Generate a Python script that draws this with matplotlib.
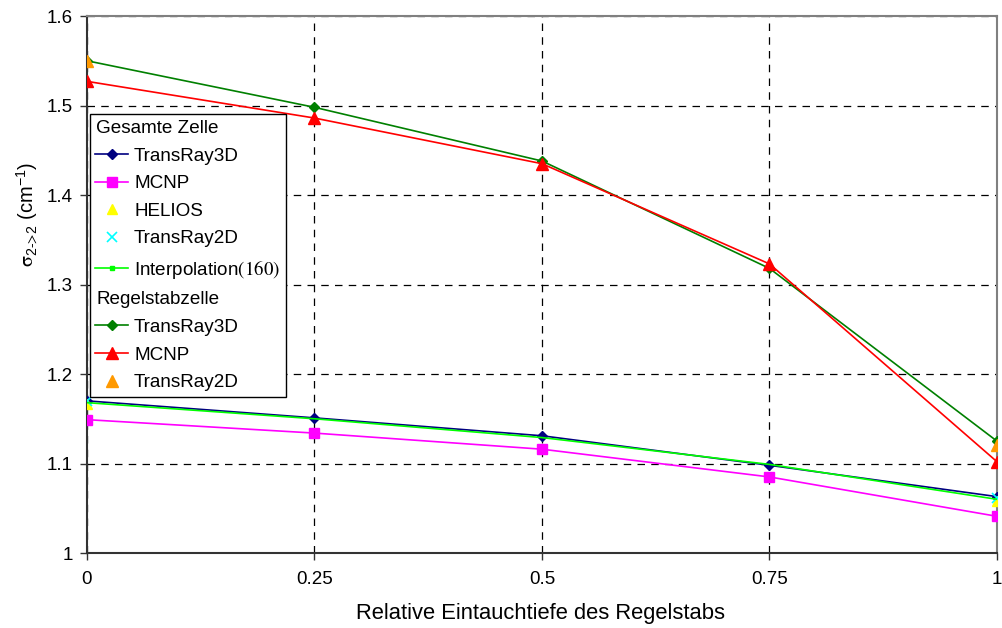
import matplotlib
matplotlib.use("Agg")
import matplotlib.pyplot as plt
from matplotlib.lines import Line2D
from matplotlib.ticker import FixedLocator, FuncFormatter

plt.rcParams['font.family'] = ['Liberation Sans', 'DejaVu Sans']
plt.rcParams['mathtext.fontset'] = 'stix'
plt.rcParams['mathtext.default'] = 'regular'

# x positions (relative immersion depth)
depth = [0, 0.25, 0.5, 0.75, 1]
depth_ends = [0, 1]

# Gesamte Zelle
gz_transray3d = [1.170, 1.151, 1.131, 1.098, 1.063]
gz_mcnp = [1.149, 1.134, 1.116, 1.085, 1.041]
gz_helios = [1.167, 1.058]
gz_transray2d = [1.170, 1.062]
gz_interp = [1.168, 1.150, 1.129, 1.099, 1.060]

# Regelstabzelle
rz_transray3d = [1.550, 1.498, 1.438, 1.318, 1.125]
rz_mcnp = [1.527, 1.486, 1.435, 1.323, 1.102]
rz_transray2d = [1.550, 1.121]

x_ticks = [0, 0.25, 0.5, 0.75, 1]
y_ticks = [1.0, 1.1, 1.2, 1.3, 1.4, 1.5, 1.6]

fig = plt.figure(figsize=(10.02, 6.28), dpi=100)
ax = fig.add_axes([0.0868, 0.1194, 0.9082, 0.8551])

lw = 1.2
h1, = ax.plot(depth, gz_transray3d, color='#000080', marker='D', ms=5, lw=lw, zorder=3)
h2, = ax.plot(depth, gz_mcnp, color='#FF00FF', marker='s', ms=7, lw=lw, zorder=3)
h3, = ax.plot(depth_ends, gz_helios, color='#FFFF00', marker='^', ms=7, ls='none', zorder=4)
h4, = ax.plot(depth_ends, gz_transray2d, color='#00FFFF', marker='x', ms=7, mew=1.2, ls='none', zorder=4)
h5, = ax.plot(depth, gz_interp, color='#00FF00', lw=lw, zorder=4)
h5leg = Line2D([], [], color='#00FF00', lw=lw, marker='s', ms=3)
h6, = ax.plot(depth, rz_transray3d, color='#008000', marker='D', ms=5, lw=lw, zorder=3)
h7, = ax.plot(depth, rz_mcnp, color='#FF0000', marker='^', ms=8, lw=lw, zorder=3)
h8, = ax.plot(depth_ends, rz_transray2d, color='#FF9900', marker='^', ms=8, ls='none', zorder=5)

blank = Line2D([], [], color='none')
handles = [blank, h1, h2, h3, h4, h5leg, blank, h6, h7, h8]
labels = ['Gesamte Zelle', 'TransRay3D', 'MCNP', 'HELIOS', 'TransRay2D',
          r'Interpolation$\mathrm{(160)}$', 'Regelstabzelle', 'TransRay3D', 'MCNP', 'TransRay2D']

ax.set_xlim(0, 1)
ax.set_ylim(1.0, 1.6)
ax.xaxis.set_major_locator(FixedLocator(x_ticks))
ax.yaxis.set_major_locator(FixedLocator(y_ticks))
fmt = FuncFormatter(lambda v, p: '%g' % round(v, 2))
ax.xaxis.set_major_formatter(fmt)
ax.yaxis.set_major_formatter(fmt)
ax.tick_params(axis='both', labelsize=13.5, direction='out', length=5, width=1, color='#333333')
ax.tick_params(axis='x', pad=8)
ax.tick_params(axis='y', pad=5)

ax.grid(True, color='black', ls=(0, (6, 5)), lw=0.9)
ax.set_axisbelow(True)

for s in ['left', 'bottom']:
    ax.spines[s].set_color('#333333')
    ax.spines[s].set_linewidth(1.5)
for s in ['top', 'right']:
    ax.spines[s].set_color('#808080')
    ax.spines[s].set_linewidth(1.5)

ax.set_xlabel('Relative Eintauchtiefe des Regelstabs', fontsize=15.8)
ax.xaxis.set_label_coords(0.498, -0.093)
ax.set_ylabel(r'$\mathrm{\sigma}_{2\text{->}2}$ (cm$^{-1}$)', fontsize=14.5)
ax.yaxis.set_label_coords(-0.052, 0.63)

leg = ax.legend(handles, labels, loc='upper left', bbox_to_anchor=(0.003, 0.8175),
                borderaxespad=0, fontsize=13.6, frameon=True, fancybox=False,
                edgecolor='black', framealpha=1, handlelength=1.75, handletextpad=0.3,
                labelspacing=0.55, borderpad=0.3)
leg.get_frame().set_linewidth(1.0)
leg.set_zorder(10)
for i in (0, 6):
    leg.get_texts()[i].set_x(-38)

fig.savefig('out.png', dpi=100)
